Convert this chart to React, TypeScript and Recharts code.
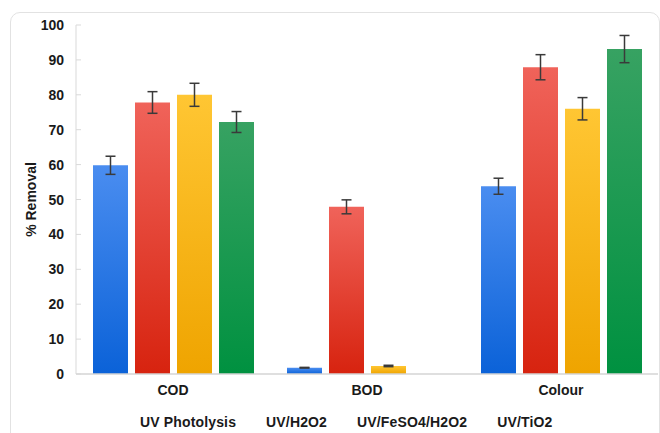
import React from 'react'
import { BarChart, Bar, XAxis, YAxis, ErrorBar, Legend } from 'recharts'

const categories = ['COD', 'BOD', 'Colour']
const seriesNames = ['UV Photolysis', 'UV/H2O2', 'UV/FeSO4/H2O2', 'UV/TiO2']
const uvPhotolysis = [59.8, 1.8, 53.8]
const uvH2O2 = [77.8, 47.9, 87.9]
const uvFeSO4H2O2 = [80.0, 2.3, 76.0]
const uvTiO2 = [72.2, null, 93.1]
const errPhotolysis = [2.6, 0.1, 2.3]
const errH2O2 = [3.1, 2.0, 3.6]
const errFeSO4 = [3.3, 0.2, 3.2]
const errTiO2 = [3.0, 0, 3.9]
const yTicks = [0, 10, 20, 30, 40, 50, 60, 70, 80, 90, 100]

const data = categories.map((name, i) => ({
  name,
  s0: uvPhotolysis[i], e0: errPhotolysis[i],
  s1: uvH2O2[i], e1: errH2O2[i],
  s2: uvFeSO4H2O2[i], e2: errFeSO4[i],
  s3: uvTiO2[i], e3: errTiO2[i],
}))

// top / bottom colours of each bar gradient
const gradients = [
  ['#4a8df0', '#0b62d8'],
  ['#f0635a', '#d7230f'],
  ['#ffc633', '#efa400'],
  ['#37a262', '#009140'],
]

const font = '"Liberation Sans", Arial, sans-serif'

const YTick = (props: any) => {
  const { x, y, payload } = props
  return (
    <g>
      <line x1={x + 12} x2={x + 17} y1={y} y2={y} stroke="#d9d9d9" />
      <text x={x} y={y} dy={5} textAnchor="end" fontSize={14} fontWeight="bold" fill="#1a1a1a" fontFamily={font}>
        {payload.value}
      </text>
    </g>
  )
}

const YLabel = (props: any) => {
  const vb = props.viewBox
  const cx = vb.x + 31
  const cy = vb.y + vb.height / 2
  return (
    <text x={cx} y={cy} transform={`rotate(-90 ${cx} ${cy})`} textAnchor="middle" dominantBaseline="central"
      fontSize={14} fontWeight="bold" fill="#1a1a1a" fontFamily={font}>
      % Removal
    </text>
  )
}

const LegendRow = () => (
  <div style={{ display: 'flex', gap: 30, paddingLeft: 140, paddingTop: 10, height: 29, boxSizing: 'border-box',
    fontFamily: font, fontWeight: 'bold', fontSize: 14, color: '#1a1a1a', lineHeight: '16px', letterSpacing: 0.15 }}>
    {seriesNames.map(n => <span key={n}>{n}</span>)}
  </div>
)

export default function App() {
  return (
    <div style={{ position: 'absolute', left: 0, top: 0, width: 660, height: 433, overflow: 'hidden', background: '#fff' }}>
      <div style={{ position: 'absolute', left: 10, top: 12, width: 650, height: 480, boxSizing: 'border-box',
        border: '1px solid #e2e2e2', borderRadius: 10 }} />
      <div style={{ position: 'absolute', left: 0, top: 0 }}>
        <BarChart width={660} height={433} data={data} margin={{ top: 25, right: 2, left: 0, bottom: 0 }}
          barSize={35} barGap={7} barCategoryGap="8.5%">
          <defs>
            {gradients.map((g, i) => (
              <linearGradient key={i} id={`grad${i}`} x1="0" y1="0" x2="0" y2="1">
                <stop offset="0%" stopColor={g[0]} />
                <stop offset="100%" stopColor={g[1]} />
              </linearGradient>
            ))}
          </defs>
          <XAxis dataKey="name" height={30} tickLine={false} tickSize={0} tickMargin={11}
            axisLine={{ stroke: '#d4d4d4', strokeWidth: 1.5 }}
            tick={{ fontSize: 14, fontWeight: 'bold', fill: '#1a1a1a', fontFamily: font }} />
          <YAxis width={76} domain={[0, 100]} ticks={yTicks} tickLine={false} tickSize={0} tickMargin={12}
            axisLine={{ stroke: '#d9d9d9' }} tick={<YTick />} label={<YLabel />} />
          <Legend verticalAlign="bottom" content={<LegendRow />} />
          {seriesNames.map((n, i) => (
            <Bar key={n} name={n} dataKey={`s${i}`} fill={`url(#grad${i})`} isAnimationActive={false}>
              <ErrorBar dataKey={`e${i}`} width={5} stroke="#3a3a3a" strokeWidth={1.5} />
            </Bar>
          ))}
        </BarChart>
      </div>
    </div>
  )
}
